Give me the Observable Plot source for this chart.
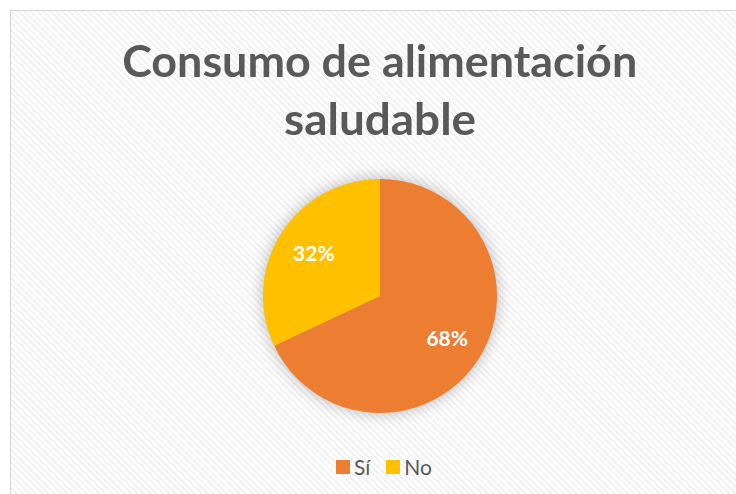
<!DOCTYPE html>
<html><head><meta charset="utf-8">
<script src="https://cdn.jsdelivr.net/npm/d3@7"></script>
<script src="https://cdn.jsdelivr.net/npm/@observablehq/plot@0.6"></script>
<style>
html,body{margin:0;padding:0;background:#fff;width:736px;height:494px;overflow:hidden;position:relative;}
#frame{position:absolute;left:10px;top:10px;width:760px;height:520px;border-left:1px solid #d6d6d6;border-top:1px solid #d6d6d6;
  background:repeating-linear-gradient(45deg,#ffffff 0px,#ffffff 2.5px,#f2f2f2 2.5px,#f2f2f2 4.5px);}
.tline{position:absolute;left:0;width:760px;text-align:center;font-family:Lato,sans-serif;font-weight:700;font-size:44px;line-height:58px;color:#595959;white-space:nowrap;}
.tline span{display:inline-block;transform-origin:center;}
#chart{position:absolute;left:250px;top:166px;}
#chart svg{overflow:visible;}
#legend{position:absolute;left:336px;top:450px;}
.lg-swatch{margin-right:16px !important;}
.lg-swatch > svg{margin-right:4px !important;}
</style></head>
<body>
<div id="frame"></div>
<div class="tline" id="t1" style="top:31px"><span>Consumo de alimentación</span></div>
<div class="tline" id="t2" style="top:89px"><span>saludable</span></div>
<div id="chart"></div>
<div id="legend"></div>
<script>
const titleLines = ["Consumo de alimentación", "saludable"];
const categories = ["Sí", "No"];
const values = [68, 32];
const colors = ["#ED7D31", "#FFC000"];

const data = categories.map((c, i) => ({category: c, value: values[i]}));
const pie = d3.pie().sort(null).value(d => d.value)(data);
const labelR = 0.675;
const labels = pie.map(p => {
  const a = (p.startAngle + p.endAngle) / 2;
  return {category: p.data.category, text: p.data.value + "%", x: labelR * Math.sin(a), y: labelR * Math.cos(a)};
});

function slices(index, scales, vals, dimensions, context) {
  const cx = scales.x(0), cy = scales.y(0), r = scales.x(1) - scales.x(0);
  const color = scales.color || d3.scaleOrdinal(categories, colors);
  const arc = d3.arc().innerRadius(0).outerRadius(r);
  const g = d3.create("svg:g")
    .attr("transform", `translate(${cx},${cy})`)
    .style("filter", "drop-shadow(0px 0px 8px rgba(0,0,0,0.28))");
  g.selectAll("path").data(pie).join("path").attr("d", arc).attr("fill", d => color(d.data.category));
  return g.node();
}

const plot = Plot.plot({
  width: 260, height: 260, margin: 13,
  x: {domain: [-1, 1], axis: null},
  y: {domain: [-1, 1], axis: null},
  color: {domain: categories, range: colors},
  marks: [
    Plot.dot(data, {x: () => 0, y: () => 0, fill: "category", r: 0}),
    slices,
    Plot.text(labels, {x: "x", y: "y", text: "text", fill: "white", fontSize: 21, fontWeight: 700, fontFamily: "Lato, sans-serif"})
  ],
  style: {background: "transparent", overflow: "visible"}
});
document.getElementById("chart").append(plot);

const leg = Plot.legend({
  color: {domain: categories, range: colors},
  legend: "swatches", swatchSize: 14, className: "lg",
  style: {fontSize: "21px", color: "#595959", fontFamily: "Lato, sans-serif", background: "transparent"}
});
document.getElementById("legend").append(leg);

// fit title widths
const targetW = [515, 192];
["t1", "t2"].forEach((id, i) => {
  const span = document.querySelector("#" + id + " span");
  span.textContent = titleLines[i];
  const w = span.getBoundingClientRect().width;
  span.style.transform = `scaleX(${targetW[i] / w})`;
});
</script>
</body></html>
